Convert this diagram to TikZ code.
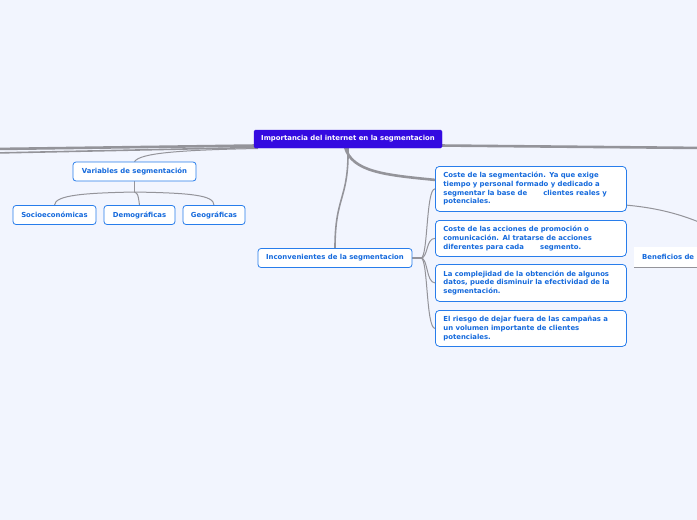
\documentclass[tikz,border=0pt]{standalone}
\usepackage{fontspec}
\setmainfont{DejaVu Sans}
\pgfdeclarelayer{bgfill}
\pgfdeclarelayer{edges}
\pgfsetlayers{bgfill,edges,main}
\begin{document}
\begin{tikzpicture}[x=1pt,y=-1pt,
  rootbox/.style={draw=rootcol, fill=rootcol, rounded corners=1.5pt, text=white, font=\fontsize{6.9}{8}\selectfont\bfseries, inner sep=0pt, minimum height=18pt},
  topic/.style={draw=topiccol, fill=white, line width=0.8pt, rounded corners=3pt, text=textcol, font=\fontsize{6.9}{8}\selectfont\bfseries, inner sep=0pt, minimum height=19pt},
  para/.style={draw=topiccol, fill=white, line width=0.8pt, rounded corners=4pt, text=textcol, font=\fontsize{6.9}{8.7}\selectfont\bfseries, inner xsep=8pt, inner ysep=0pt, anchor=north west, align=left, text width=175pt},
  thick link/.style={draw=linecol, line width=2.6pt},
  mid link/.style={draw=linecol, line width=1.6pt},
  thin link/.style={draw=linecol, line width=1pt}
]
\definecolor{bgcol}{RGB}{242,245,254}
\definecolor{rootcol}{RGB}{52,10,225}
\definecolor{topiccol}{RGB}{40,125,235}
\definecolor{textcol}{RGB}{20,105,220}
\definecolor{linecol}{RGB}{148,148,154}
\begin{pgfonlayer}{bgfill}
\fill[bgcol] (0,0) rectangle (697,520);
\end{pgfonlayer}
\useasboundingbox (0,0) rectangle (697,520);
\clip (0,0) rectangle (697,520);

% nodes
\node[rootbox, minimum width=188pt] (root) at (348,139) {Importancia del internet en la segmentacion};

\node[topic, minimum width=123pt] (vars) at (134.5,171.5) {Variables de segmentación};
\node[topic, minimum width=83pt] (socio) at (54.5,215) {Socioeconómicas};
\node[topic, minimum width=71pt] (demo) at (139.5,215) {Demográficas};
\node[topic, minimum width=62pt] (geo) at (214,215) {Geográficas};

\node[topic, minimum width=154pt] (inco) at (335,258) {Inconvenientes de la segmentacion};

\node[para, minimum height=45pt] (c1) at (435,166) {Coste de la segmentación. Ya que exige\\tiempo y personal formado y dedicado a\\segmentar la base de\hspace{2em} clientes reales y\\potenciales.};
\node[para, minimum height=36pt] (c2) at (435,220) {Coste de las acciones de promoción o\\comunicación. Al tratarse de acciones\\diferentes para cada\hspace{2em} segmento.};
\node[para, minimum height=37pt] (c3) at (435,264) {La complejidad de la obtención de algunos\\datos, puede disminuir la efectividad de la\\segmentación.};
\node[para, minimum height=36pt] (c4) at (435,310) {El riesgo de dejar fuera de las campañas a\\un volumen importante de clientes\\potenciales.};

\fill[linecol] (634,266) rectangle (700,268);
\node[fill=white, inner xsep=8pt, inner ysep=0pt, minimum height=20pt, anchor=west, text=textcol, font=\fontsize{6.9}{8}\selectfont\bfseries] (benef) at (634,256.5) {Beneficios de\hspace{4em}};

% off-page ends and attachment points
\coordinate (offL1) at (-5,149);
\coordinate (offL2) at (-5,153);
\coordinate (offR) at (705,148);
\coordinate (offB) at (720,232);
\coordinate (rL1) at (256,145.5);
\coordinate (rL2) at (256,147.5);
\coordinate (rR) at (440,145.5);
\coordinate (rV) at (258,148.5);
\coordinate (rI) at (348,147);
\coordinate (rC) at (345,147);
\coordinate (c1in) at (436,180);
\coordinate (c1out) at (625,205);
\coordinate (vhub) at (134.5,192);
\coordinate (ihub) at (421,258);

\begin{pgfonlayer}{edges}
\draw[thick link] (rL1) -- (offL1);
\draw[mid link] (rL2) -- (offL2);
\draw[thick link] (rR) -- (offR);
\draw[thin link] (rV) .. controls (180,150) and (140,153) .. (vars.north);
\draw[mid link] (rI) .. controls (349,200) and (335,195) .. (inco.north);
\draw[thick link] (rC) .. controls (352,172) and (385,175) .. (c1in);
\draw[mid link] (vars.south) -- (vhub);
\draw[thin link] (vhub) .. controls (85,193) and (55,195) .. (socio.north);
\draw[thin link] (vhub) .. controls (138,194) .. (demo.north);
\draw[thin link] (vhub) .. controls (190,193) and (214,195) .. (geo.north);
\draw[mid link] (inco.east) -- (ihub);
\draw[thin link] (ihub) .. controls (428,258) and (426,188.5) .. (c1.west);
\draw[thin link] (ihub) .. controls (428,258) and (426,238) .. (c2.west);
\draw[thin link] (ihub) .. controls (428,258) and (426,282.5) .. (c3.west);
\draw[thin link] (ihub) .. controls (428,258) and (426,328) .. (c4.west);
\draw[thin link] (c1out) .. controls (660,208) and (690,216) .. (offB);
\end{pgfonlayer}
\end{tikzpicture}
\end{document}
